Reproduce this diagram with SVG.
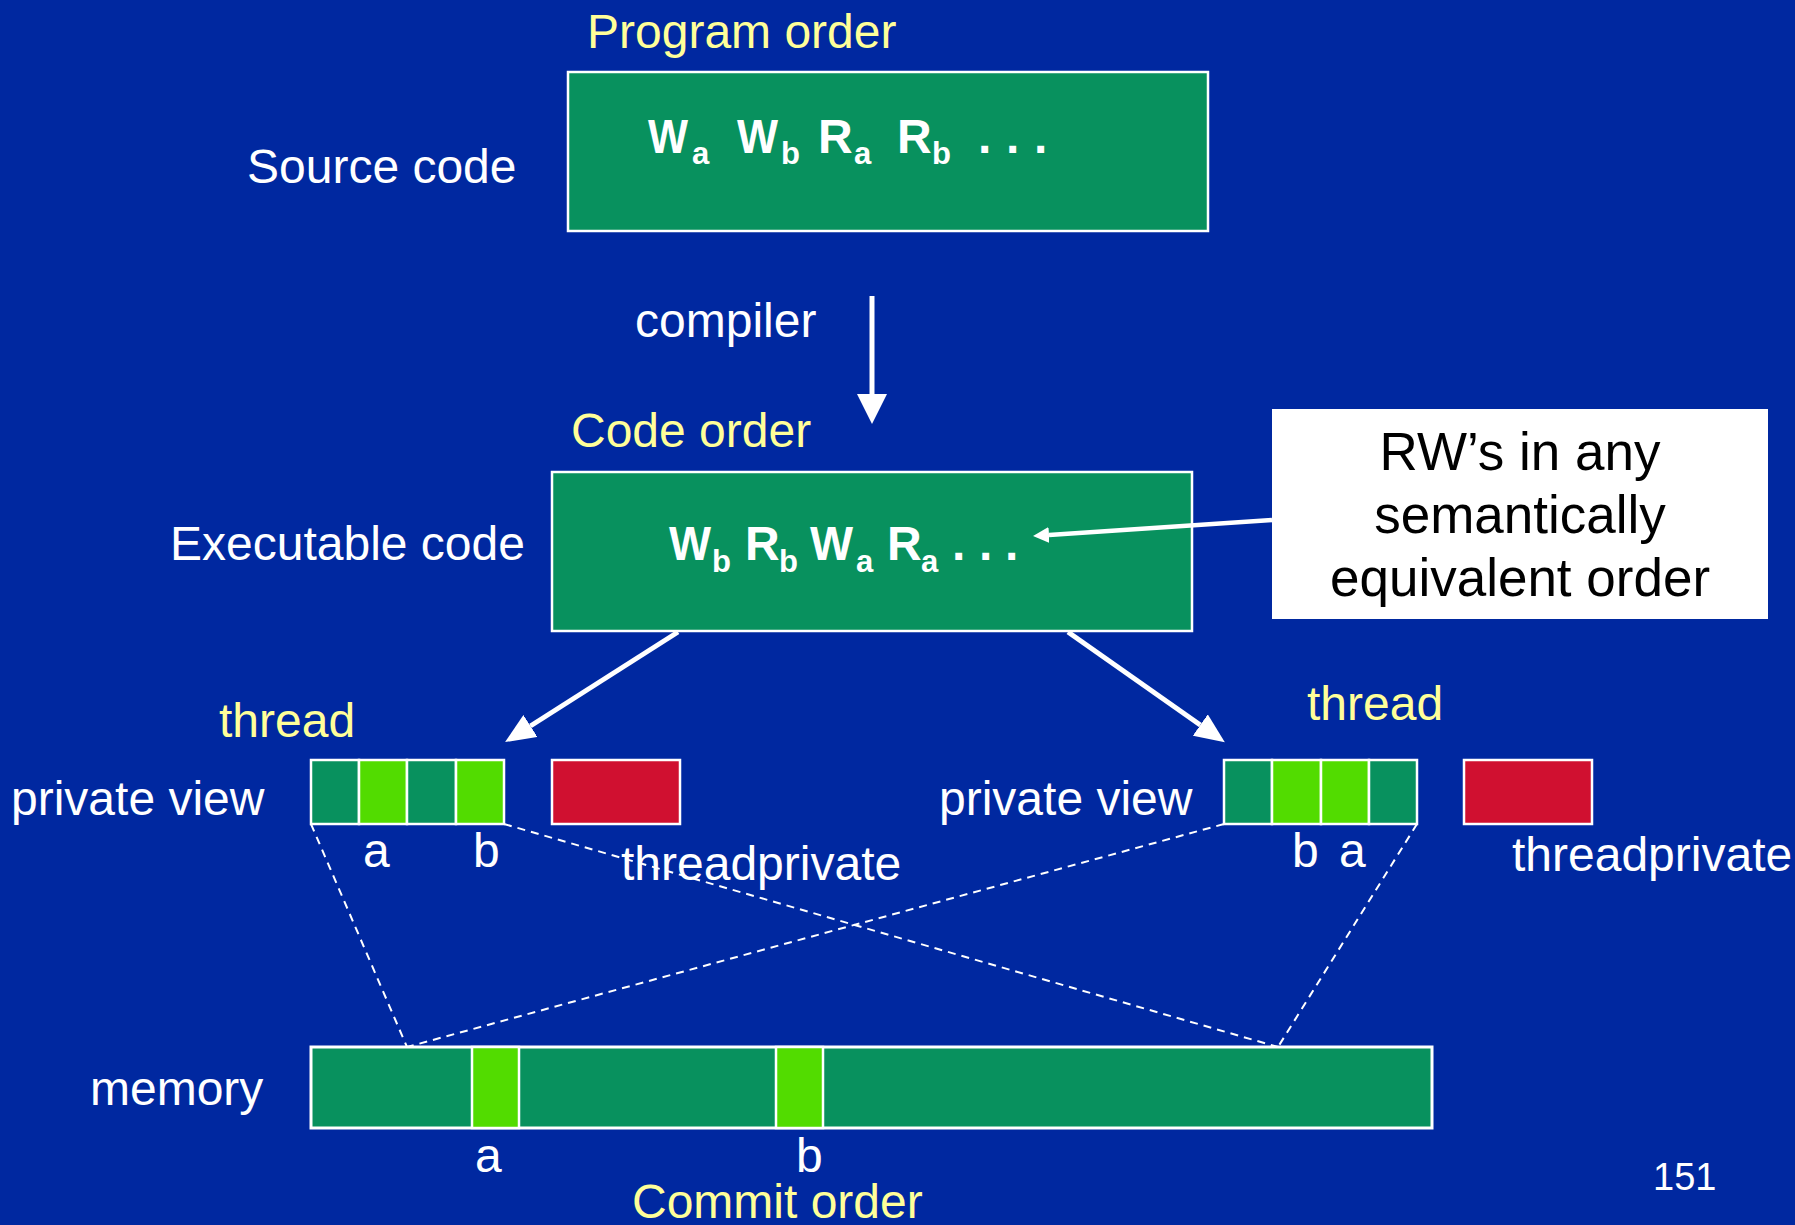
<svg xmlns="http://www.w3.org/2000/svg" width="1795" height="1225" viewBox="0 0 1795 1225">
  <style>
    .lbl { font-family: "Liberation Sans", Arial, sans-serif; font-size: 48px; fill: #FFFFFF; }
    .yel { font-family: "Liberation Sans", Arial, sans-serif; font-size: 48px; fill: #FFFF99; }
    .op { font-family: "Liberation Sans", Arial, sans-serif; font-size: 48px; font-weight: bold; fill: #FFFFFF; }
    .sub { font-family: "Liberation Sans", Arial, sans-serif; font-size: 31px; font-weight: bold; fill: #FFFFFF; }
    .note { font-family: "Liberation Sans", Arial, sans-serif; font-size: 53px; fill: #000000; text-anchor: middle; }
    .box { fill: #08915E; stroke: #FFFFFF; stroke-width: 2.5; }
    .lite { fill: #52DC00; stroke: #FFFFFF; stroke-width: 2.5; }
    .red { fill: #D01030; stroke: #FFFFFF; stroke-width: 2.5; }
    .arrow { stroke: #FFFFFF; stroke-width: 5; fill: none; }
    .dash { stroke: #FFFFFF; stroke-width: 2; stroke-dasharray: 8 6; fill: none; }
  </style>
  <defs>
    <marker id="headBig" viewBox="0 0 30 30" markerWidth="30" markerHeight="30" refX="0" refY="15" orient="auto" markerUnits="userSpaceOnUse">
      <path d="M0,0 L30,15 L0,30 Z" fill="#FFFFFF"/>
    </marker>
    <marker id="headMid" viewBox="0 0 30 26" markerWidth="30" markerHeight="26" refX="0" refY="13" orient="auto" markerUnits="userSpaceOnUse">
      <path d="M0,0 L30,13 L0,26 Z" fill="#FFFFFF"/>
    </marker>
    <marker id="headSmall" viewBox="0 0 16 16" markerWidth="16" markerHeight="16" refX="0" refY="8" orient="auto" markerUnits="userSpaceOnUse">
      <path d="M0,0 L16,8 L0,16 Z" fill="#FFFFFF"/>
    </marker>
  </defs>

  <rect x="0" y="0" width="1795" height="1225" fill="#0028A0"/>

  <g id="labels">
    <text class="yel" x="587" y="48">Program order</text>
    <text class="lbl" x="247" y="183">Source code</text>
    <text class="lbl" x="635" y="337">compiler</text>
    <text class="yel" x="571" y="447">Code order</text>
    <text class="lbl" x="170" y="560">Executable code</text>
    <text class="lbl" x="90" y="1105">memory</text>
    <text class="yel" x="632" y="1218">Commit order</text>
    <text class="lbl" x="1653" y="1190" style="font-size:38px">151</text>
  </g>

  <g id="source-box">
    <rect class="box" x="568" y="72" width="640" height="159"/>
    <text class="op" x="648" y="153" textLength="40" lengthAdjust="spacingAndGlyphs">W</text>
    <text class="sub" x="692" y="164">a</text>
    <text class="op" x="737" y="153" textLength="41" lengthAdjust="spacingAndGlyphs">W</text>
    <text class="sub" x="781" y="164">b</text>
    <text class="op" x="818" y="153">R</text>
    <text class="sub" x="854" y="164">a</text>
    <text class="op" x="897" y="153">R</text>
    <text class="sub" x="932" y="164">b</text>
    <text class="op" x="978 1006 1034" y="153">...</text>
  </g>

  <g id="exec-box">
    <rect class="box" x="552" y="472" width="640" height="159"/>
    <text class="op" x="669" y="560" textLength="42" lengthAdjust="spacingAndGlyphs">W</text>
    <text class="sub" x="712" y="572">b</text>
    <text class="op" x="745" y="560">R</text>
    <text class="sub" x="779" y="572">b</text>
    <text class="op" x="810" y="560" textLength="43" lengthAdjust="spacingAndGlyphs">W</text>
    <text class="sub" x="856" y="572">a</text>
    <text class="op" x="887" y="560">R</text>
    <text class="sub" x="921" y="572">a</text>
    <text class="op" x="952 979 1005" y="560">...</text>
  </g>

  <g id="note-box">
    <rect x="1272" y="409" width="496" height="210" fill="#FFFFFF"/>
    <text class="note" x="1520" y="470">RW’s in any</text>
    <text class="note" x="1520" y="533">semantically</text>
    <text class="note" x="1520" y="596">equivalent order</text>
  </g>

  <g id="thread-left">
    <text class="yel" x="219" y="737">thread</text>
    <text class="lbl" x="11" y="815">private view</text>
    <rect class="box" x="311" y="760" width="48" height="64"/>
    <rect class="lite" x="359" y="760" width="48" height="64"/>
    <rect class="box" x="407" y="760" width="49" height="64"/>
    <rect class="lite" x="456" y="760" width="48" height="64"/>
    <text class="lbl" x="363" y="867">a</text>
    <text class="lbl" x="473" y="867">b</text>
    <rect class="red" x="552" y="760" width="128" height="64"/>
    <text class="lbl" x="621" y="880">threadprivate</text>
  </g>

  <g id="thread-right">
    <text class="yel" x="1307" y="720">thread</text>
    <text class="lbl" x="939" y="815">private view</text>
    <rect class="box" x="1224" y="760" width="48" height="64"/>
    <rect class="lite" x="1272" y="760" width="49" height="64"/>
    <rect class="lite" x="1321" y="760" width="48" height="64"/>
    <rect class="box" x="1369" y="760" width="48" height="64"/>
    <text class="lbl" x="1292" y="867">b</text>
    <text class="lbl" x="1339" y="867">a</text>
    <rect class="red" x="1464" y="760" width="128" height="64"/>
    <text class="lbl" x="1512" y="871">threadprivate</text>
  </g>

  <g id="memory">
    <rect class="box" x="311" y="1047" width="1121" height="81" style="stroke-width:3"/>
    <rect class="lite" x="472" y="1047" width="47" height="81"/>
    <rect class="lite" x="776" y="1047" width="47" height="81"/>
    <text class="lbl" x="475" y="1172">a</text>
    <text class="lbl" x="796" y="1172">b</text>
  </g>

  <g id="connectors">
    <line class="arrow" x1="872" y1="296" x2="872" y2="394" marker-end="url(#headBig)"/>
    <line class="arrow" x1="678" y1="632" x2="530.4" y2="726" marker-end="url(#headMid)"/>
    <line class="arrow" x1="1068" y1="632" x2="1200.3" y2="725" marker-end="url(#headMid)"/>
    <line class="arrow" x1="1272" y1="520" x2="1049" y2="535" style="stroke-width:4.5" marker-end="url(#headSmall)"/>
    <line class="dash" x1="311" y1="824" x2="407" y2="1047"/>
    <line class="dash" x1="504" y1="824" x2="1278" y2="1047"/>
    <line class="dash" x1="1224" y1="824" x2="407" y2="1047"/>
    <line class="dash" x1="1417" y1="824" x2="1278" y2="1047"/>
  </g>
</svg>
